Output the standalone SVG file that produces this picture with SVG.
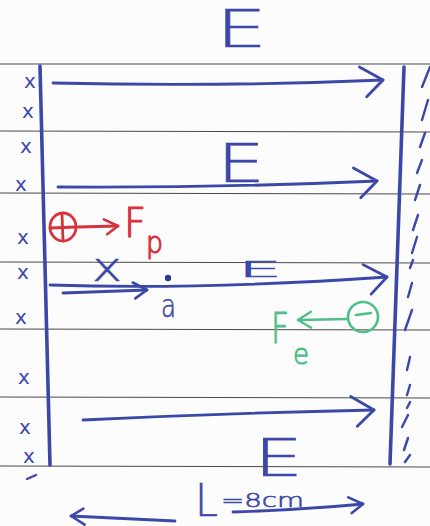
<svg xmlns="http://www.w3.org/2000/svg" width="430" height="526" viewBox="0 0 430 526">
<style>
.rule{stroke:#4a4a4a;stroke-width:1}
.pen{stroke:#3c48a8;stroke-width:2.8;fill:none;stroke-linecap:round;stroke-linejoin:round}
.plate{stroke:#3c48a8;stroke-width:3.6;fill:none;stroke-linecap:round}
.hatch{stroke:#3c48a8;stroke-width:2.4;fill:none;stroke-linecap:round}
.x{font-family:"DejaVu Sans",sans-serif;font-size:20px;fill:#3c48a8}
.lab{font-family:"DejaVu Sans",sans-serif;font-weight:200;fill:#3c48a8;stroke:#3c48a8;stroke-width:0.6}
.red{stroke:#d8323e;stroke-width:2.8;fill:none;stroke-linecap:round}
.grn{stroke:#4dbf88;stroke-width:2.6;fill:none;stroke-linecap:round}
.rt{font-family:"DejaVu Sans",sans-serif;font-weight:200;fill:#d8323e;stroke:#d8323e;stroke-width:1.2}
.gt{font-family:"DejaVu Sans",sans-serif;font-weight:200;fill:#4dbf88;stroke:#4dbf88;stroke-width:1}
</style>
<defs>
<marker id="ah" viewBox="0 0 30 36" refX="27" refY="17" markerWidth="30" markerHeight="36" orient="auto" markerUnits="userSpaceOnUse">
<path d="M4,3 L27,17 L10,33" fill="none" stroke="#3c48a8" stroke-width="2.8" stroke-linecap="round" stroke-linejoin="round"/>
</marker>
<marker id="ahs" viewBox="0 0 20 22" refX="17" refY="11" markerWidth="20" markerHeight="22" orient="auto" markerUnits="userSpaceOnUse">
<path d="M3,3 L17,11 L5,19" fill="none" stroke="#3c48a8" stroke-width="2.6" stroke-linecap="round" stroke-linejoin="round"/>
</marker>
<marker id="ahr" viewBox="0 0 20 22" refX="17" refY="11" markerWidth="20" markerHeight="22" orient="auto" markerUnits="userSpaceOnUse">
<path d="M3,4 L17,11 L6,19" fill="none" stroke="#d8323e" stroke-width="2.6" stroke-linecap="round" stroke-linejoin="round"/>
</marker>
<marker id="ahg" viewBox="0 0 20 22" refX="17" refY="11" markerWidth="20" markerHeight="22" orient="auto" markerUnits="userSpaceOnUse">
<path d="M4,3 L17,11 L4,19" fill="none" stroke="#4dbf88" stroke-width="2.4" stroke-linecap="round" stroke-linejoin="round"/>
</marker>
</defs>
<rect width="430" height="526" fill="#fbfcfb"/>
<g id="ruled-lines">
<line class="rule" x1="0" y1="64" x2="430" y2="64"/>
<line class="rule" x1="0" y1="131" x2="430" y2="132"/>
<line class="rule" x1="0" y1="193" x2="430" y2="194"/>
<line class="rule" x1="0" y1="262" x2="430" y2="263"/>
<line class="rule" x1="0" y1="329" x2="430" y2="330"/>
<line class="rule" x1="0" y1="397" x2="430" y2="398"/>
<line class="rule" x1="0" y1="466" x2="430" y2="467"/>
</g>
<g id="left-plate">
<line class="plate" x1="40" y1="66" x2="50" y2="465"/>
<g class="x">
<text x="24" y="88">x</text>
<text x="22" y="118">x</text>
<text x="20" y="153">x</text>
<text x="15" y="191">x</text>
<text x="17" y="244">x</text>
<text x="17" y="279">x</text>
<text x="15" y="324">x</text>
<text x="18" y="384">x</text>
<text x="19" y="434">x</text>
<text x="23" y="463">x</text>
</g>
<line class="hatch" x1="27" y1="479" x2="36" y2="475"/>
</g>
<g id="right-plate">
<line class="plate" x1="404" y1="67" x2="390" y2="464"/>
<g class="hatch">
<line x1="430" y1="67" x2="422" y2="87"/>
<line x1="428" y1="100" x2="422" y2="120"/>
<line x1="425" y1="133" x2="420" y2="147"/>
<line x1="422" y1="160" x2="417" y2="173"/>
<line x1="420" y1="185" x2="415" y2="200"/>
<line x1="418" y1="215" x2="413" y2="230"/>
<line x1="417" y1="237" x2="412" y2="253"/>
<line x1="413" y1="260" x2="410" y2="268"/>
<line x1="412" y1="283" x2="408" y2="297"/>
<line x1="412" y1="310" x2="405" y2="330"/>
<line x1="410" y1="357" x2="407" y2="370"/>
<line x1="410" y1="385" x2="407" y2="395"/>
<line x1="410" y1="402" x2="407" y2="408"/>
<line x1="408" y1="415" x2="402" y2="427"/>
<line x1="408" y1="438" x2="404" y2="450"/>
<line x1="410" y1="455" x2="405" y2="462"/>
</g>
</g>
<g id="connectors">
<path class="pen" d="M53,83 Q220,87 383,80" marker-end="url(#ah)"/>
<path class="pen" d="M58,187 Q220,188 377,181" marker-end="url(#ah)"/>
<path class="pen" d="M50,285 Q200,290 387,277" marker-end="url(#ah)"/>
<path class="pen" d="M63,293 L147,290" marker-end="url(#ahs)"/>
<path class="pen" d="M83,420 Q230,413 374,410" marker-end="url(#ah)"/>
<path class="pen" d="M175,521 L71,516" marker-end="url(#ahs)"/>
<path class="pen" d="M233,512 Q300,510 363,504" marker-end="url(#ahs)"/>
<path class="red" d="M78,227 L118,226" marker-end="url(#ahr)"/>
<path class="grn" d="M348,319 L298,320" marker-end="url(#ahg)"/>
</g>
<g id="E-top"><text class="lab" x="216" y="47" font-size="52" textLength="51" lengthAdjust="spacingAndGlyphs">E</text></g>
<g id="E-2"><text class="lab" x="217" y="182" font-size="54" textLength="48" lengthAdjust="spacingAndGlyphs">E</text></g>
<g id="E-3"><text class="lab" x="238" y="277" font-size="22" textLength="44" lengthAdjust="spacingAndGlyphs">E</text></g>
<g id="E-bottom"><text class="lab" x="254" y="476" font-size="52" textLength="49" lengthAdjust="spacingAndGlyphs">E</text></g>
<g id="x-label"><text class="lab" x="92" y="281" font-size="40" textLength="30" lengthAdjust="spacingAndGlyphs">x</text></g>
<g id="point-a">
<circle cx="168" cy="278" r="3.2" fill="#2f3a8a"/>
<text class="lab" x="161" y="317" font-size="32" textLength="15" lengthAdjust="spacingAndGlyphs">a</text>
</g>
<g id="proton">
<ellipse class="red" cx="63" cy="227" rx="13" ry="14"/>
<line class="red" x1="50" y1="228" x2="76" y2="227" stroke-width="2.2"/>
<line class="red" x1="62" y1="214" x2="63" y2="240" stroke-width="2.2"/>
<text class="rt" x="124" y="237" font-size="41" textLength="22" lengthAdjust="spacingAndGlyphs">F</text>
<text class="rt" x="146" y="253" font-size="30" textLength="17" lengthAdjust="spacingAndGlyphs">p</text>
</g>
<g id="electron">
<ellipse class="grn" cx="363" cy="317" rx="15" ry="15"/>
<line class="grn" x1="356" y1="315" x2="371" y2="313"/>
<text class="gt" x="271" y="343" font-size="42" textLength="18" lengthAdjust="spacingAndGlyphs">F</text>
<text class="gt" x="293" y="364" font-size="28" textLength="16" lengthAdjust="spacingAndGlyphs">e</text>
</g>
<g id="length">
<text class="lab" x="195" y="516" font-size="44" textLength="23" lengthAdjust="spacingAndGlyphs">L</text>
<text class="lab" x="221" y="507" font-size="19" textLength="83" lengthAdjust="spacingAndGlyphs">=8cm</text>
</g>
</svg>
